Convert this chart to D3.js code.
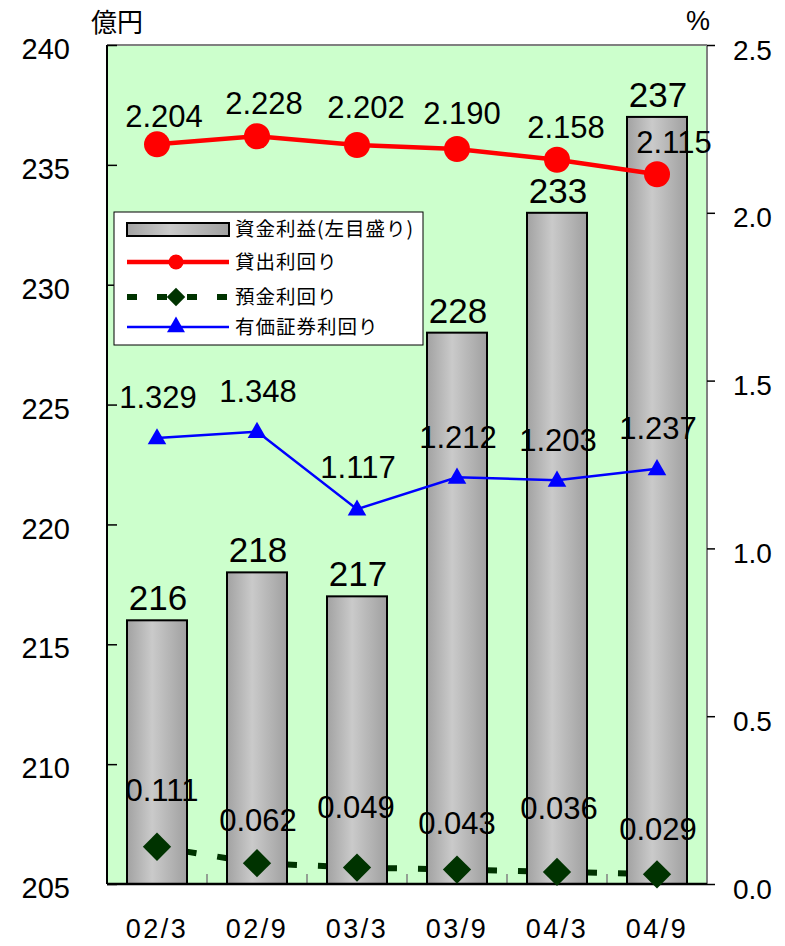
<!DOCTYPE html>
<html>
<head>
<meta charset="utf-8">
<script src="https://cdn.jsdelivr.net/npm/d3@7"></script>
<style>
  body { margin: 0; background: #fff; }
  text { font-family: "Liberation Sans", Arial, sans-serif; fill: #000; }
  .jp { font-family: "Noto Sans CJK JP", "Noto Sans", sans-serif; }
</style>
</head>
<body>
<svg id="chart" width="785" height="946"></svg>
<script>
// Periods (year/month)
const categories = ["02/3", "02/9", "03/3", "03/9", "04/3", "04/9"];
// 資金利益 (億円, left axis)
const netInterestIncome = [216, 218, 217, 228, 233, 237];
// 貸出利回り (%, right axis)
const loanYield = [2.204, 2.228, 2.202, 2.190, 2.158, 2.115];
// 預金利回り (%, right axis)
const depositYield = [0.111, 0.062, 0.049, 0.043, 0.036, 0.029];
// 有価証券利回り (%, right axis)
const securitiesYield = [1.329, 1.348, 1.117, 1.212, 1.203, 1.237];
// Axis ticks
const leftTicks = [205, 210, 215, 220, 225, 230, 235, 240];
const rightTicks = [0, 0.5, 1.0, 1.5, 2.0, 2.5];
// Legend entries
const legendLabels = ["資金利益(左目盛り)", "貸出利回り", "預金利回り", "有価証券利回り"];

// ---- layout ----
const plot = { left: 107, right: 707, top: 45, bottom: 884 };
// nudges for value labels (dx, height above the point)
const loanLabelDx = [7, 7, 9, 5, 9, 17];
const loanLabelRise = [28, 33, 38, 36, 33, 32];
const depositLabelDx = [5, 1, -1, 0, 2, 1];
const depositLabelRise = [57, 43, 61, 47, 64, 45];
const securitiesLabelRise = [41, 41, 42, 40, 40, 41];

const svg = d3.select("#chart");

const x = d3.scaleBand().domain(categories)
  .range([plot.left, plot.right]).paddingInner(0.4).paddingOuter(0.2);
const yL = d3.scaleLinear().domain([205, 240]).range([plot.bottom, plot.top]);
const yR = d3.scaleLinear().domain([0, 2.5]).range([plot.bottom, plot.top]);
const cx = i => x(categories[i]) + x.bandwidth() / 2;

// bar gradient
const defs = svg.append("defs");
const grad = defs.append("linearGradient").attr("id", "barGrad")
  .attr("x1", "0%").attr("x2", "100%").attr("y1", "0%").attr("y2", "0%");
grad.append("stop").attr("offset", "0%").attr("stop-color", "#a2a2a2");
grad.append("stop").attr("offset", "42%").attr("stop-color", "#cacaca");
grad.append("stop").attr("offset", "100%").attr("stop-color", "#a0a0a0");

// plot background
svg.append("rect")
  .attr("x", plot.left).attr("y", plot.top)
  .attr("width", plot.right - plot.left).attr("height", plot.bottom - plot.top)
  .attr("fill", "#ccffcc");

// deposit yield dashed line (sits behind the bars)
const gDep = svg.append("g");
for (let i = 0; i < depositYield.length - 1; i++) {
  gDep.append("line")
    .attr("x1", cx(i)).attr("y1", yR(depositYield[i]))
    .attr("x2", cx(i + 1)).attr("y2", yR(depositYield[i + 1]))
    .attr("stroke", "#003300").attr("stroke-width", 6)
    .attr("stroke-dasharray", "10,21").attr("stroke-dashoffset", 1);
}

// bars
svg.append("g").selectAll("rect").data(netInterestIncome).join("rect")
  .attr("x", (d, i) => x(categories[i]))
  .attr("y", d => yL(d))
  .attr("width", x.bandwidth())
  .attr("height", d => yL(205) - yL(d))
  .attr("fill", "url(#barGrad)")
  .attr("stroke", "#000").attr("stroke-width", 2);

// frame
svg.append("line").attr("x1", plot.left).attr("x2", plot.right)
  .attr("y1", plot.top).attr("y2", plot.top).attr("stroke", "#808080").attr("stroke-width", 2);
svg.append("line").attr("x1", plot.right).attr("x2", plot.right)
  .attr("y1", plot.top).attr("y2", plot.bottom).attr("stroke", "#808080").attr("stroke-width", 2);

// bottom ticks at category boundaries
const bottomTicks = d3.range(categories.length + 1).map(i => plot.left + i * x.step());
svg.append("g").selectAll("line").data(bottomTicks).join("line")
  .attr("x1", d => d).attr("x2", d => d)
  .attr("y1", plot.bottom).attr("y2", plot.bottom - 10)
  .attr("stroke", "#808080").attr("stroke-width", 1.5);

// left axis
const axL = svg.append("g").attr("transform", `translate(${plot.left},0)`)
  .call(d3.axisLeft(yL).tickValues(leftTicks).tickSizeInner(-10).tickSizeOuter(0)
    .tickPadding(37).tickFormat(d3.format("d")));
axL.select(".domain").remove();
axL.selectAll(".tick line").attr("stroke", "#000").attr("stroke-width", 1.5);
axL.selectAll("text").attr("font-size", 29).attr("dy", "0.47em")
  .attr("font-family", "Liberation Sans, Arial, sans-serif");

// right axis
const axR = svg.append("g").attr("transform", `translate(${plot.right},0)`)
  .call(d3.axisRight(yR).tickValues(rightTicks).tickSizeInner(8).tickSizeOuter(0)
    .tickPadding(18).tickFormat(d3.format(".1f")));
axR.select(".domain").remove();
axR.selectAll(".tick line").attr("stroke", "#000").attr("stroke-width", 1.5);
axR.selectAll("text").attr("font-size", 28).attr("dy", "0.5em")
  .attr("font-family", "Liberation Sans, Arial, sans-serif");

// bottom axis labels
const axB = svg.append("g").attr("transform", `translate(0,${plot.bottom})`)
  .call(d3.axisBottom(x).tickSize(0).tickPadding(35));
axB.select(".domain").remove();
axB.selectAll("text").attr("font-size", 27).attr("letter-spacing", 2.5)
  .attr("font-family", "Liberation Sans, Arial, sans-serif");

// left & bottom axis lines
svg.append("line").attr("x1", plot.left).attr("x2", plot.left)
  .attr("y1", plot.top).attr("y2", plot.bottom).attr("stroke", "#000").attr("stroke-width", 2);
svg.append("line").attr("x1", plot.left).attr("x2", plot.right)
  .attr("y1", plot.bottom).attr("y2", plot.bottom).attr("stroke", "#000").attr("stroke-width", 2.5);

// unit labels
svg.append("text").attr("class", "jp").attr("x", 117).attr("y", 32)
  .attr("text-anchor", "middle").attr("font-size", 26).text("億円");
svg.append("text").attr("x", 698).attr("y", 30)
  .attr("text-anchor", "middle").attr("font-size", 27).text("%");

// loan yield line
svg.append("path").datum(loanYield)
  .attr("d", d3.line().x((d, i) => cx(i)).y(d => yR(d)))
  .attr("fill", "none").attr("stroke", "#ff0000").attr("stroke-width", 4.5);
// securities yield line
svg.append("path").datum(securitiesYield)
  .attr("d", d3.line().x((d, i) => cx(i)).y(d => yR(d)))
  .attr("fill", "none").attr("stroke", "#0000ff").attr("stroke-width", 2.5);

svg.append("g").selectAll("circle").data(loanYield).join("circle")
  .attr("cx", (d, i) => cx(i)).attr("cy", d => yR(d)).attr("r", 13).attr("fill", "#ff0000");

const tri = d3.symbol().type(d3.symbolTriangle).size(150);
svg.append("g").selectAll("path").data(securitiesYield).join("path")
  .attr("transform", (d, i) => `translate(${cx(i)},${yR(d) + 1})`)
  .attr("d", tri).attr("fill", "#0000ff");

const dia = d3.symbol().type(d3.symbolSquare).size(400);
svg.append("g").selectAll("path").data(depositYield).join("path")
  .attr("transform", (d, i) => `translate(${cx(i)},${yR(d)}) rotate(45)`)
  .attr("d", dia).attr("fill", "#003300");

// value labels
const fmt3 = d3.format(".3f");
svg.append("g").selectAll("text").data(netInterestIncome).join("text")
  .attr("x", (d, i) => cx(i) + 1).attr("y", d => yL(d) - 10)
  .attr("text-anchor", "middle").attr("font-size", 35).text(d => d);

svg.append("g").selectAll("text").data(loanYield).join("text")
  .attr("x", (d, i) => cx(i) + loanLabelDx[i])
  .attr("y", (d, i) => yR(d) - loanLabelRise[i] + 11)
  .attr("text-anchor", "middle").attr("font-size", 31).text(d => fmt3(d));

svg.append("g").selectAll("text").data(securitiesYield).join("text")
  .attr("x", (d, i) => cx(i) + 1)
  .attr("y", (d, i) => yR(d) - securitiesLabelRise[i] + 11)
  .attr("text-anchor", "middle").attr("font-size", 31).text(d => fmt3(d));

svg.append("g").selectAll("text").data(depositYield).join("text")
  .attr("x", (d, i) => cx(i) + depositLabelDx[i])
  .attr("y", (d, i) => yR(d) - depositLabelRise[i] + 11)
  .attr("text-anchor", "middle").attr("font-size", 31).text(d => fmt3(d));

// legend
const lg = svg.append("g").attr("transform", "translate(114,212)");
lg.append("rect").attr("width", 309).attr("height", 133)
  .attr("fill", "#fff").attr("stroke", "#000").attr("stroke-width", 1);
const rowY = [17, 50, 85, 115];
const sw0 = 13, sw1 = 115, swMid = 62;
lg.append("rect").attr("x", sw0).attr("y", rowY[0] - 6).attr("width", sw1 - sw0).attr("height", 13)
  .attr("fill", "url(#barGrad)").attr("stroke", "#000").attr("stroke-width", 2);
lg.append("line").attr("x1", sw0).attr("x2", sw1).attr("y1", rowY[1]).attr("y2", rowY[1])
  .attr("stroke", "#ff0000").attr("stroke-width", 4.5);
lg.append("circle").attr("cx", swMid).attr("cy", rowY[1]).attr("r", 7.5).attr("fill", "#ff0000");
lg.append("line").attr("x1", sw0).attr("x2", sw1).attr("y1", rowY[2]).attr("y2", rowY[2])
  .attr("stroke", "#003300").attr("stroke-width", 6)
  .attr("stroke-dasharray", "10,20");
lg.append("path").attr("transform", `translate(${swMid},${rowY[2]}) rotate(45)`)
  .attr("d", d3.symbol().type(d3.symbolSquare).size(170)).attr("fill", "#003300");
lg.append("line").attr("x1", sw0).attr("x2", sw1).attr("y1", rowY[3]).attr("y2", rowY[3])
  .attr("stroke", "#0000ff").attr("stroke-width", 2.5);
lg.append("path").attr("transform", `translate(${swMid},${rowY[3]})`)
  .attr("d", d3.symbol().type(d3.symbolTriangle).size(140)).attr("fill", "#0000ff");
lg.selectAll("text.lab").data(legendLabels).join("text")
  .attr("class", "jp lab").attr("x", 121).attr("y", (d, i) => rowY[i] + 7)
  .attr("font-size", 19.5).attr("letter-spacing", 1).text(d => d);
</script>
</body>
</html>
